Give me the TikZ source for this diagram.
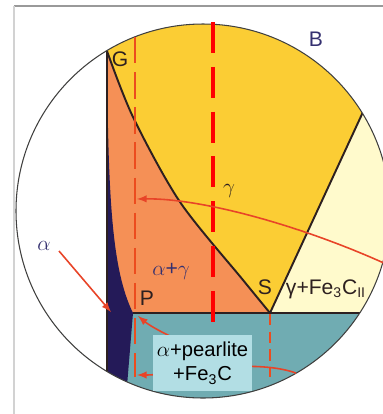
\documentclass[tikz,border=0pt]{standalone}
\usepackage{fontspec}
\setmainfont{Liberation Sans}
\usetikzlibrary{arrows}
\usetikzlibrary{math}
\definecolor{cyellow}{RGB}{251,205,52}
\definecolor{corange}{RGB}{245,144,86}
\definecolor{cteal}{RGB}{112,172,178}
\definecolor{ccream}{RGB}{255,250,204}
\definecolor{cnavy}{RGB}{36,26,88}
\definecolor{cbox}{RGB}{178,222,228}
\definecolor{cline}{RGB}{45,32,32}
\definecolor{cdash}{RGB}{236,76,30}
\definecolor{carrow}{RGB}{232,68,40}
\definecolor{clabel}{RGB}{52,48,112}

\begin{document}
\begin{tikzpicture}[x=0.02cm,y=-0.02cm,
  bound/.style={draw=cline, line width=1.1pt},
  thickdash/.style={draw=red, line width=2.3pt, dash pattern=on 17.6pt off 7.9pt},
  thindash/.style={draw=cdash, line width=1.6pt, dash pattern=on 15pt off 5pt},
  shortdash/.style={draw=cdash, line width=1.6pt, dash pattern=on 6.5pt off 3.5pt},
  arr/.style={draw=carrow, line width=0.9pt, -latex},
  lbl/.style={font=\fontsize{12}{12}\selectfont, inner sep=0pt, text=cline}]
\tikzmath{
\R=187;
\cx=203;
\cy=211;
}
\useasboundingbox (0,0) rectangle (383,414);

%The frame:
\draw[gray!80, line width=0.6pt] (14,6) -- (383,6);
\draw[gray!35, line width=0.6pt] (14,6) -- (14,414);

%The points:
\coordinate (G) at (107,51);
\coordinate (P) at (133,313);
\coordinate (S) at (270,313);
\coordinate (E) at (363,112);
\coordinate (K) at (362,313);

%The regions:
\begin{scope}
\clip (\cx,\cy) circle (\R);
\fill[cyellow] (0,0) rectangle (420,420);
\fill[ccream] (S) -- (415,0) -- (420,0) -- (420,313) -- cycle;
\fill[corange] plot [smooth] coordinates {(G) (133,117) (180,202) (243,280) (S)} -- (107,313) -- cycle;
\fill[cteal] (0,313) rectangle (420,420);
\fill[white] (0,0) rectangle (107,420);
\fill[cnavy] (G) .. controls (108,200) and (112,270) .. (P) -- (127,386) -- (107,386) -- cycle;
\draw[bound] plot [smooth] coordinates {(G) (133,117) (180,202) (243,280) (S)};
\draw[bound] (S) -- (E);
\draw[bound] (P) -- (K);
\draw[bound] (G) -- (107,400);
\end{scope}
\draw[black!75, line width=0.6pt] (\cx,\cy) circle (\R);

%The dashed lines:
\draw[thindash] (135,37) -- (135,377);
\draw[shortdash] (270,314) -- (270,377);
\draw[thickdash] (213,22) -- (213,336);

%The arrows:
\coordinate (cR) at (386,264);
\coordinate (cL) at (137,199);
\coordinate (cP) at (138,316);
\coordinate (cB) at (137,375);
\coordinate (aTail) at (59,251);
\coordinate (aTip) at (111,312);
\draw[arr] (cR) .. controls (300,225) and (200,198) .. (cL);
\draw[arr] (192,346) .. controls (168,336) and (150,326) .. (cP);
\draw[arr] (296,373) .. controls (250,357) and (175,375) .. (cB);
\draw[arr] (aTail) -- (aTip);

%The labels:
\node[lbl] (lG) at (120,59) {G};
\node[lbl, text=clabel] (lB) at (316,39) {B};
\node[lbl, font=\fontsize{13}{12}\selectfont] (lgam) at (229,191) {$\gamma$};
\node[lbl, text=clabel] (lag) at (171,271) {$\alpha$+$\gamma$};
\node[lbl] (lP) at (147,298) {P};
\node[lbl] (lS) at (265,287) {S};
\node[lbl] (lgFe) at (326,289) {γ+Fe\textsubscript{3}C\textsubscript{II}};
\node[lbl, font=\fontsize{13}{12}\selectfont, text=clabel] (la) at (44,246) {$\alpha$};
\node[fill=cbox, inner sep=0pt, minimum width=1.98cm, minimum height=1.12cm, align=center,
  font=\fontsize{11.5}{14}\selectfont] (lbox) at (202.5,363) {$\alpha$+pearlite\\+Fe\textsubscript{3}C};
\end{tikzpicture}
\end{document}
